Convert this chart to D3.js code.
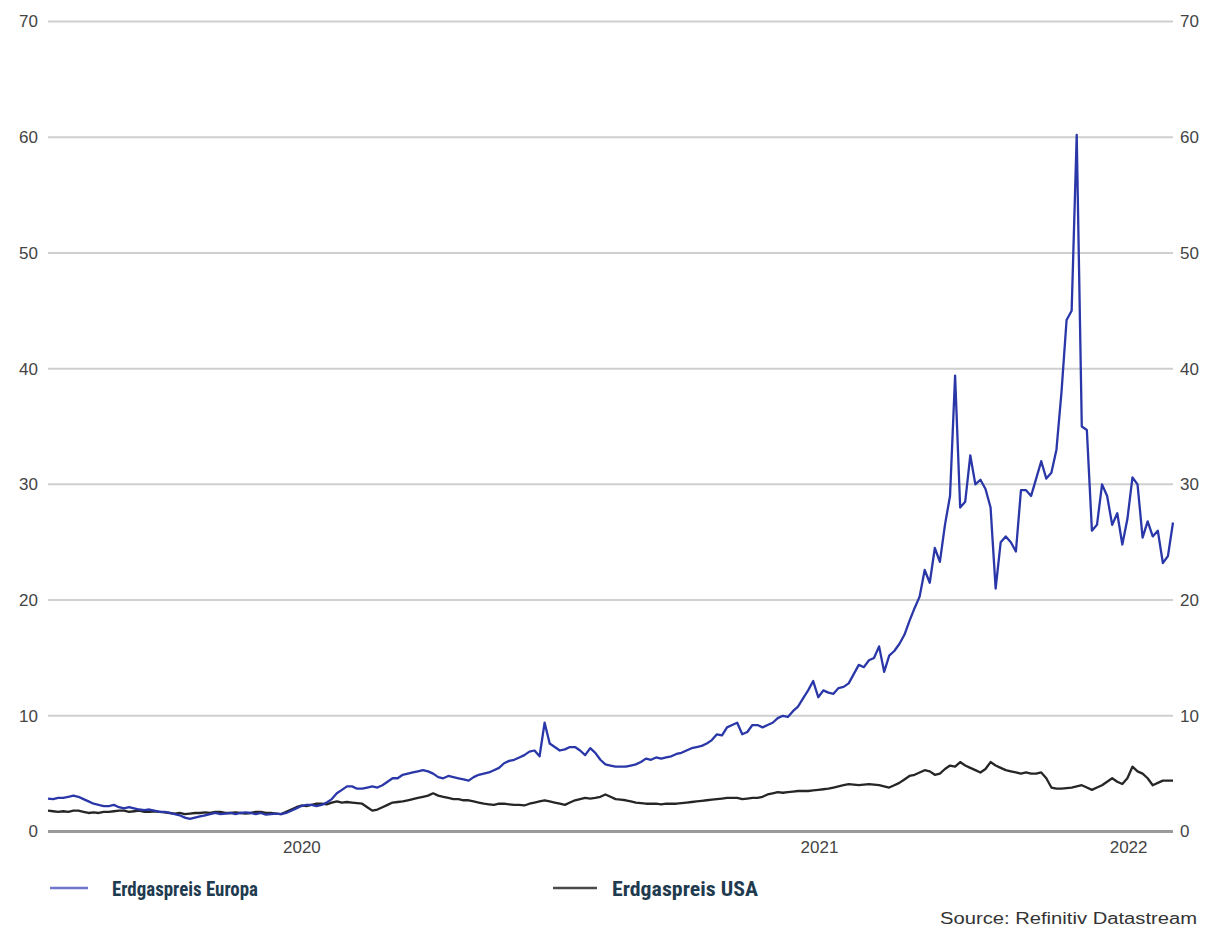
<!DOCTYPE html>
<html>
<head>
<meta charset="utf-8">
<script src="https://cdn.jsdelivr.net/npm/d3@7"></script>
<style>
  body { margin: 0; background: #fff; }
  svg { display: block; }
</style>
</head>
<body>
<script>
const w = 1207;
const h = 932;

// twice-weekly observations (every 3.5 days), starting here
const firstObs = "2020-01-17";

const europa = [
  2.85, 2.8, 2.9, 2.9, 3.0, 3.1, 3.0, 2.8, 2.6, 2.4,
  2.3, 2.2, 2.2, 2.3, 2.1, 2.0, 2.1, 2.0, 1.9, 1.85,
  1.9, 1.8, 1.7, 1.7, 1.6, 1.5, 1.4, 1.2, 1.1, 1.2,
  1.3, 1.4, 1.5, 1.6, 1.5, 1.55, 1.6, 1.5, 1.6, 1.65,
  1.6, 1.5, 1.6, 1.45, 1.5, 1.55, 1.5, 1.6, 1.8, 2.0,
  2.2, 2.3, 2.3, 2.2, 2.3, 2.5, 2.8, 3.3, 3.6, 3.9,
  3.9, 3.7, 3.7, 3.8, 3.9, 3.8, 4.0, 4.3, 4.6, 4.6,
  4.9, 5.0, 5.1, 5.2, 5.3, 5.2, 5.0, 4.7, 4.6, 4.8,
  4.7, 4.6, 4.5, 4.4, 4.7, 4.9, 5.0, 5.1, 5.3, 5.5,
  5.9, 6.1, 6.2, 6.4, 6.6, 6.9, 7.0, 6.5, 9.4, 7.6,
  7.3, 7.0, 7.1, 7.3, 7.3, 7.0, 6.6, 7.2, 6.8, 6.2,
  5.8, 5.7, 5.6, 5.6, 5.6, 5.7, 5.8, 6.0, 6.3, 6.2,
  6.4, 6.3, 6.4, 6.5, 6.7, 6.8, 7.0, 7.2, 7.3, 7.4,
  7.6, 7.9, 8.4, 8.3, 9.0, 9.2, 9.4, 8.4, 8.6, 9.2,
  9.2, 9.0, 9.2, 9.4, 9.8, 10.0, 9.9, 10.4, 10.8, 11.5,
  12.2, 13.0, 11.6, 12.2, 12.0, 11.9, 12.4, 12.5, 12.8, 13.6,
  14.4, 14.2, 14.8, 15.0, 16.0, 13.8, 15.2, 15.6, 16.2, 17.0,
  18.2, 19.3, 20.3, 22.6, 21.5, 24.5, 23.3, 26.5, 29.0, 39.4,
  28.0, 28.5, 32.5, 30.0, 30.4, 29.6, 28.0, 21.0, 25.0, 25.5,
  25.0, 24.2, 29.5, 29.5, 29.0, 30.5, 32.0, 30.5, 31.0, 33.0,
  38.0, 44.2, 45.0, 60.2, 35.0, 34.7, 26.0, 26.5, 30.0, 29.0,
  26.5, 27.5, 24.8, 27.0, 30.6, 30.0, 25.4, 26.8, 25.5, 26.0,
  23.2, 23.8, 26.7
];

const usa = [
  1.8, 1.75, 1.7, 1.75, 1.7, 1.8, 1.8, 1.7, 1.6, 1.65,
  1.6, 1.7, 1.7, 1.75, 1.8, 1.8, 1.7, 1.75, 1.8, 1.7,
  1.7, 1.75, 1.7, 1.65, 1.6, 1.55, 1.6, 1.5, 1.55, 1.6,
  1.6, 1.65, 1.6, 1.7, 1.7, 1.6, 1.6, 1.65, 1.6, 1.55,
  1.6, 1.7, 1.7, 1.6, 1.6, 1.55, 1.5, 1.7, 1.9, 2.1,
  2.25, 2.2, 2.3, 2.4, 2.4, 2.35, 2.5, 2.6, 2.5, 2.55,
  2.5, 2.45, 2.4, 2.1, 1.8, 1.9, 2.1, 2.3, 2.5, 2.55,
  2.6, 2.7, 2.8, 2.9, 3.0, 3.1, 3.3, 3.1, 3.0, 2.9,
  2.8, 2.8, 2.7, 2.7, 2.6, 2.5, 2.4, 2.35, 2.3, 2.4,
  2.4, 2.35, 2.3, 2.3, 2.25, 2.4, 2.5, 2.6, 2.7, 2.6,
  2.5, 2.4, 2.3, 2.5, 2.7, 2.8, 2.9, 2.85, 2.9, 3.0,
  3.2, 3.0, 2.8, 2.75, 2.7, 2.6, 2.5, 2.45, 2.4, 2.4,
  2.4, 2.35, 2.4, 2.4, 2.4, 2.45, 2.5, 2.55, 2.6, 2.65,
  2.7, 2.75, 2.8, 2.85, 2.9, 2.9, 2.9, 2.8, 2.85, 2.9,
  2.9, 3.0, 3.2, 3.3, 3.4, 3.35, 3.4, 3.45, 3.5, 3.5,
  3.5, 3.55, 3.6, 3.65, 3.7, 3.8, 3.9, 4.0, 4.1, 4.05,
  4.0, 4.05, 4.1, 4.05, 4.0, 3.9, 3.8, 4.0, 4.2, 4.5,
  4.8, 4.9, 5.1, 5.3, 5.2, 4.9, 5.0, 5.4, 5.7, 5.6,
  6.0, 5.7, 5.5, 5.3, 5.1, 5.4, 6.0, 5.7, 5.5, 5.3,
  5.2, 5.1, 5.0, 5.1, 5.0, 5.0, 5.1, 4.6, 3.8, 3.7,
  3.7, 3.75, 3.8, 3.9, 4.0, 3.8, 3.6, 3.8, 4.0, 4.3,
  4.6, 4.3, 4.1, 4.6, 5.6, 5.2, 5.0, 4.6, 4.0, 4.2,
  4.4, 4.4, 4.4
];

const yTicks = [0, 10, 20, 30, 40, 50, 60, 70];
const yearLabels = ["2020", "2021", "2022"];
const seriesNames = ["Erdgaspreis Europa", "Erdgaspreis USA"];
const sourceText = "Source: Refinitiv Datastream";

const parse = d3.timeParse("%Y-%m-%d");
const start = parse(firstObs);
const dates = europa.map(function(d, i) { return d3.timeHour.offset(start, 84 * i); });

const plotL = 48, plotR = 1173, plotT = 21.5, plotB = 831.5;

const x = d3.scaleTime()
  .domain([dates[0], dates[dates.length - 1]])
  .range([plotL, plotR]);

const y = d3.scaleLinear()
  .domain([0, 70])
  .range([plotB, plotT]);

const svg = d3.select("body")
  .append("svg")
  .attr("width", w)
  .attr("height", h);

// grid
svg.append("g")
  .selectAll("line")
  .data(yTicks)
  .enter()
  .append("line")
  .attr("x1", plotL)
  .attr("x2", plotR)
  .attr("y1", function(d) { return y(d); })
  .attr("y2", function(d) { return y(d); })
  .attr("stroke", function(d) { return d === 0 ? "#9a9a9a" : "#cfcfcf"; })
  .attr("stroke-width", function(d) { return d === 0 ? 3 : 2; });

// y labels both sides
const axisFont = "'Liberation Sans', Arial, sans-serif";
const yl = svg.append("g")
  .attr("transform", "translate(" + plotL + ",0)")
  .call(d3.axisLeft(y).tickValues(yTicks).tickSize(0).tickPadding(10));
const yr = svg.append("g")
  .attr("transform", "translate(" + plotR + ",0)")
  .call(d3.axisRight(y).tickValues(yTicks).tickSize(0).tickPadding(7));

[yl, yr].forEach(function(g) {
  g.select(".domain").remove();
  g.selectAll("text")
    .attr("font-family", axisFont)
    .attr("font-size", "17px")
    .attr("fill", "#444");
});

// x labels centred on the visible part of each year
const dom = x.domain();
const yearMids = yearLabels.map(function(yy) {
  const a = d3.max([parse(yy + "-01-01"), dom[0]]);
  const b = d3.min([parse((+yy + 1) + "-01-01"), dom[1]]);
  return new Date((a.getTime() + b.getTime()) / 2);
});

const xa = svg.append("g")
  .attr("transform", "translate(0," + plotB + ")")
  .call(d3.axisBottom(x).tickValues(yearMids).tickSize(0).tickPadding(9)
    .tickFormat(function(d, i) { return yearLabels[i]; }));
xa.select(".domain").remove();
xa.selectAll("text")
  .attr("font-family", axisFont)
  .attr("font-size", "17px")
  .attr("fill", "#444");

// lines
const line = d3.line()
  .x(function(d) { return x(d.date); })
  .y(function(d) { return y(d.value); });

function toPoints(vals) {
  return vals.map(function(v, i) { return {date: dates[i], value: v}; });
}

svg.append("path")
  .datum(toPoints(usa))
  .attr("d", line)
  .attr("fill", "none")
  .attr("stroke", "#262626")
  .attr("stroke-width", 2.3)
  .attr("stroke-linejoin", "round");

svg.append("path")
  .datum(toPoints(europa))
  .attr("d", line)
  .attr("fill", "none")
  .attr("stroke", "#2a37a8")
  .attr("stroke-width", 2.3)
  .attr("stroke-linejoin", "round");

// legend
const legendFont = "'Liberation Sans Narrow', 'Roboto Condensed', 'Liberation Sans', sans-serif";
const legend = [
  {name: seriesNames[0], color: "#6f76c8", x1: 50, x2: 88, tx: 112},
  {name: seriesNames[1], color: "#4a4a4a", x1: 553, x2: 597, tx: 612}
];

legend.forEach(function(l) {
  svg.append("line")
    .attr("x1", l.x1).attr("x2", l.x2)
    .attr("y1", 888).attr("y2", 888)
    .attr("stroke", l.color)
    .attr("stroke-width", 2.5);
  svg.append("text")
    .attr("x", l.tx)
    .attr("y", 896)
    .attr("font-family", legendFont)
    .attr("font-weight", "bold")
    .attr("font-size", "21px")
    .attr("fill", "#1f3b4f")
    .attr("textLength", 146)
    .attr("lengthAdjust", "spacingAndGlyphs")
    .text(l.name);
});

svg.append("text")
  .attr("x", 1197)
  .attr("y", 924)
  .attr("text-anchor", "end")
  .attr("font-family", axisFont)
  .attr("font-size", "16px")
  .attr("fill", "#333")
  .attr("textLength", 257)
  .attr("lengthAdjust", "spacingAndGlyphs")
  .text(sourceText);
</script>
</body>
</html>
